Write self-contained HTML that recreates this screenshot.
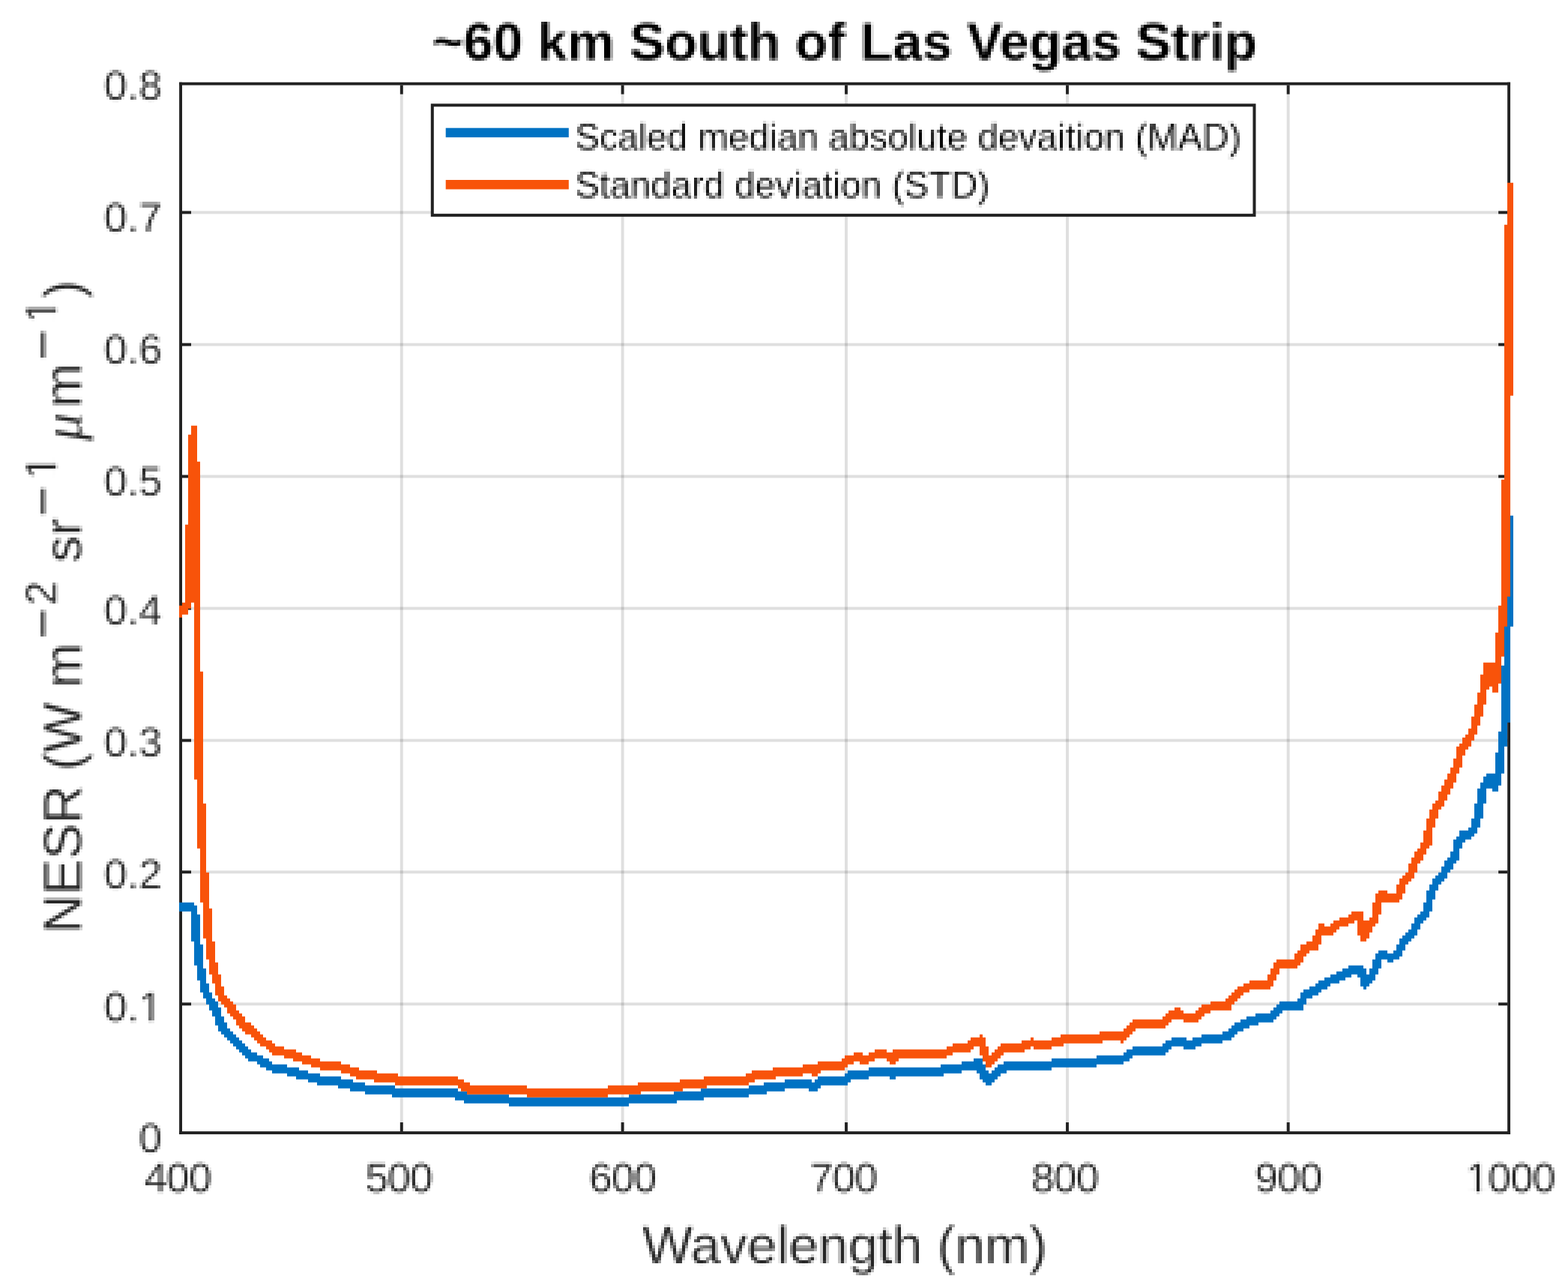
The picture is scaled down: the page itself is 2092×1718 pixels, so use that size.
<!DOCTYPE html>
<html lang="en"><head><meta charset="utf-8"><title>NESR ~60 km South of Las Vegas Strip</title>
<style>html,body{margin:0;padding:0;background:#fff}body{width:2092px;height:1718px;overflow:hidden}svg{display:block}text{font-family:"Liberation Sans",Arial,Helvetica,sans-serif;fill:#262626}</style></head><body>
<svg width="2092" height="1718" viewBox="0 0 2092 1718">
<rect width="2092" height="1718" fill="#fff"/>
<g fill="#262626" fill-opacity="0.15">
<rect x="533.85" y="111.70" width="3.90" height="1399.30"/>
<rect x="828.65" y="111.70" width="3.90" height="1399.30"/>
<rect x="1127.05" y="111.70" width="3.90" height="1399.30"/>
<rect x="1422.05" y="111.70" width="3.90" height="1399.30"/>
<rect x="1716.75" y="111.70" width="3.90" height="1399.30"/>
<rect x="241.05" y="281.45" width="1772.05" height="3.90"/>
<rect x="241.05" y="457.65" width="1772.05" height="3.90"/>
<rect x="241.05" y="633.55" width="1772.05" height="3.90"/>
<rect x="241.05" y="809.55" width="1772.05" height="3.90"/>
<rect x="241.05" y="985.65" width="1772.05" height="3.90"/>
<rect x="241.05" y="1161.25" width="1772.05" height="3.90"/>
<rect x="241.05" y="1337.30" width="1772.05" height="3.90"/>
</g>
<g fill="#222222">
<rect x="239.10" y="109.75" width="3.90" height="1403.20"/>
<rect x="2011.15" y="109.75" width="3.90" height="1403.20"/>
<rect x="239.10" y="109.75" width="1775.95" height="3.90"/>
<rect x="239.10" y="1509.05" width="1775.95" height="3.90"/>
<rect x="533.85" y="113.65" width="3.90" height="12.00"/>
<rect x="533.85" y="1497.05" width="3.90" height="12.00"/>
<rect x="828.65" y="113.65" width="3.90" height="12.00"/>
<rect x="828.65" y="1497.05" width="3.90" height="12.00"/>
<rect x="1127.05" y="113.65" width="3.90" height="12.00"/>
<rect x="1127.05" y="1497.05" width="3.90" height="12.00"/>
<rect x="1422.05" y="113.65" width="3.90" height="12.00"/>
<rect x="1422.05" y="1497.05" width="3.90" height="12.00"/>
<rect x="1716.75" y="113.65" width="3.90" height="12.00"/>
<rect x="1716.75" y="1497.05" width="3.90" height="12.00"/>
<rect x="243.00" y="281.45" width="12.00" height="3.90"/>
<rect x="1999.15" y="281.45" width="12.00" height="3.90"/>
<rect x="243.00" y="457.65" width="12.00" height="3.90"/>
<rect x="1999.15" y="457.65" width="12.00" height="3.90"/>
<rect x="243.00" y="633.55" width="12.00" height="3.90"/>
<rect x="1999.15" y="633.55" width="12.00" height="3.90"/>
<rect x="243.00" y="809.55" width="12.00" height="3.90"/>
<rect x="1999.15" y="809.55" width="12.00" height="3.90"/>
<rect x="243.00" y="985.65" width="12.00" height="3.90"/>
<rect x="1999.15" y="985.65" width="12.00" height="3.90"/>
<rect x="243.00" y="1161.25" width="12.00" height="3.90"/>
<rect x="1999.15" y="1161.25" width="12.00" height="3.90"/>
<rect x="243.00" y="1337.30" width="12.00" height="3.90"/>
<rect x="1999.15" y="1337.30" width="12.00" height="3.90"/>
</g>
<rect x="576.8" y="140.3" width="1096.7" height="146.8" fill="#fff" stroke="#222222" stroke-width="4"/>
<rect x="594.7" y="170.7" width="164.1" height="12.5" fill="#0072c3"/>
<rect x="594.7" y="240.0" width="164.1" height="12.5" fill="#f8530a"/>
<filter id="px1" filterUnits="userSpaceOnUse" x="762" y="149" width="908" height="136" color-interpolation-filters="sRGB"><feConvolveMatrix in="SourceGraphic" order="4" kernelMatrix="1 1 1 1 1 1 1 1 1 1 1 1 1 1 1 1" divisor="16" targetX="1" targetY="1" edgeMode="none" preserveAlpha="false" result="b"/><feFlood x="763" y="150" width="1" height="1" flood-color="#000" result="f"/><feComposite in="f" in2="f" operator="over" x="762" y="149" width="4" height="4" result="c"/><feTile in="c" result="t"/><feComposite in="b" in2="t" operator="in" result="s"/><feConvolveMatrix in="s" order="4" kernelMatrix="1 1 1 1 1 1 1 1 1 1 1 1 1 1 1 1" divisor="1" targetX="2" targetY="2" edgeMode="none" preserveAlpha="false"/></filter>
<g filter="url(#px1)" stroke="#fff" stroke-width="0.3">
<text x="767.3" y="199.6" font-size="49.06" style="fill:#000">Scaled median absolute devaition (MAD)</text>
<text x="767.3" y="264.2" font-size="49.06" style="fill:#000">Standard deviation (STD)</text>
</g>
<path fill="#0072c3" d="M239.0 1203.80h4.0v12.05h-4.0zM243.0 1203.80h4.0v12.05h-4.0zM247.0 1203.80h4.0v12.05h-4.0zM251.0 1203.80h4.0v12.05h-4.0zM255.0 1203.80h4.0v52.05h-4.0zM259.0 1207.80h4.0v80.05h-4.0zM263.0 1219.80h4.0v88.05h-4.0zM267.0 1259.80h4.0v64.05h-4.0zM271.0 1291.80h4.0v40.05h-4.0zM275.0 1311.80h4.0v28.05h-4.0zM279.0 1323.80h4.0v24.05h-4.0zM283.0 1331.80h4.0v24.05h-4.0zM287.0 1335.80h4.0v32.05h-4.0zM291.0 1343.80h4.0v32.05h-4.0zM295.0 1355.80h4.0v24.05h-4.0zM299.0 1363.80h4.0v20.05h-4.0zM303.0 1371.80h4.0v16.05h-4.0zM307.0 1375.80h4.0v16.05h-4.0zM311.0 1379.80h4.0v16.05h-4.0zM315.0 1383.80h4.0v16.05h-4.0zM319.0 1387.80h4.0v16.05h-4.0zM323.0 1391.80h4.0v16.05h-4.0zM327.0 1395.80h4.0v16.05h-4.0zM331.0 1399.80h4.0v16.05h-4.0zM335.0 1403.80h4.0v12.05h-4.0zM339.0 1403.80h4.0v12.05h-4.0zM343.0 1407.80h4.0v12.05h-4.0zM347.0 1407.80h4.0v16.05h-4.0zM351.0 1411.80h4.0v12.05h-4.0zM355.0 1411.80h4.0v16.05h-4.0zM359.0 1415.80h4.0v12.05h-4.0zM363.0 1419.80h4.0v12.05h-4.0zM367.0 1419.80h4.0v12.05h-4.0zM371.0 1419.80h4.0v12.05h-4.0zM375.0 1419.80h4.0v12.05h-4.0zM379.0 1419.80h4.0v12.05h-4.0zM383.0 1423.80h4.0v12.05h-4.0zM387.0 1423.80h4.0v12.05h-4.0zM391.0 1423.80h4.0v12.05h-4.0zM395.0 1423.80h4.0v16.05h-4.0zM399.0 1427.80h4.0v12.05h-4.0zM403.0 1427.80h4.0v12.05h-4.0zM407.0 1427.80h4.0v12.05h-4.0zM411.0 1431.80h4.0v12.05h-4.0zM415.0 1431.80h4.0v12.05h-4.0zM419.0 1431.80h4.0v12.05h-4.0zM423.0 1431.80h4.0v16.05h-4.0zM427.0 1435.80h4.0v12.05h-4.0zM431.0 1435.80h4.0v12.05h-4.0zM435.0 1435.80h4.0v12.05h-4.0zM439.0 1435.80h4.0v12.05h-4.0zM443.0 1435.80h4.0v12.05h-4.0zM447.0 1435.80h4.0v12.05h-4.0zM451.0 1435.80h4.0v16.05h-4.0zM455.0 1439.80h4.0v12.05h-4.0zM459.0 1439.80h4.0v12.05h-4.0zM463.0 1439.80h4.0v12.05h-4.0zM467.0 1439.80h4.0v16.05h-4.0zM471.0 1443.80h4.0v12.05h-4.0zM475.0 1443.80h4.0v12.05h-4.0zM479.0 1443.80h4.0v12.05h-4.0zM483.0 1443.80h4.0v12.05h-4.0zM487.0 1447.80h4.0v12.05h-4.0zM491.0 1447.80h4.0v12.05h-4.0zM495.0 1447.80h4.0v12.05h-4.0zM499.0 1447.80h4.0v12.05h-4.0zM503.0 1447.80h4.0v12.05h-4.0zM507.0 1447.80h4.0v12.05h-4.0zM511.0 1447.80h4.0v12.05h-4.0zM515.0 1447.80h4.0v12.05h-4.0zM519.0 1447.80h4.0v12.05h-4.0zM523.0 1447.80h4.0v16.05h-4.0zM527.0 1451.80h4.0v12.05h-4.0zM531.0 1451.80h4.0v12.05h-4.0zM535.0 1451.80h4.0v12.05h-4.0zM539.0 1451.80h4.0v12.05h-4.0zM543.0 1451.80h4.0v12.05h-4.0zM547.0 1451.80h4.0v12.05h-4.0zM551.0 1451.80h4.0v12.05h-4.0zM555.0 1451.80h4.0v12.05h-4.0zM559.0 1451.80h4.0v12.05h-4.0zM563.0 1451.80h4.0v12.05h-4.0zM567.0 1451.80h4.0v12.05h-4.0zM571.0 1451.80h4.0v12.05h-4.0zM575.0 1451.80h4.0v12.05h-4.0zM579.0 1451.80h4.0v12.05h-4.0zM583.0 1451.80h4.0v12.05h-4.0zM587.0 1451.80h4.0v12.05h-4.0zM591.0 1451.80h4.0v12.05h-4.0zM595.0 1451.80h4.0v12.05h-4.0zM599.0 1451.80h4.0v12.05h-4.0zM603.0 1451.80h4.0v12.05h-4.0zM607.0 1451.80h4.0v16.05h-4.0zM611.0 1455.80h4.0v12.05h-4.0zM615.0 1455.80h4.0v12.05h-4.0zM619.0 1455.80h4.0v16.05h-4.0zM623.0 1459.80h4.0v12.05h-4.0zM627.0 1459.80h4.0v12.05h-4.0zM631.0 1459.80h4.0v12.05h-4.0zM635.0 1459.80h4.0v12.05h-4.0zM639.0 1459.80h4.0v12.05h-4.0zM643.0 1459.80h4.0v12.05h-4.0zM647.0 1459.80h4.0v12.05h-4.0zM651.0 1459.80h4.0v12.05h-4.0zM655.0 1459.80h4.0v12.05h-4.0zM659.0 1459.80h4.0v12.05h-4.0zM663.0 1459.80h4.0v12.05h-4.0zM667.0 1459.80h4.0v12.05h-4.0zM671.0 1459.80h4.0v12.05h-4.0zM675.0 1459.80h4.0v12.05h-4.0zM679.0 1463.80h4.0v12.05h-4.0zM683.0 1463.80h4.0v12.05h-4.0zM687.0 1463.80h4.0v12.05h-4.0zM691.0 1463.80h4.0v12.05h-4.0zM695.0 1463.80h4.0v12.05h-4.0zM699.0 1463.80h4.0v12.05h-4.0zM703.0 1463.80h4.0v12.05h-4.0zM707.0 1463.80h4.0v12.05h-4.0zM711.0 1463.80h4.0v12.05h-4.0zM715.0 1463.80h4.0v12.05h-4.0zM719.0 1463.80h4.0v12.05h-4.0zM723.0 1463.80h4.0v12.05h-4.0zM727.0 1463.80h4.0v12.05h-4.0zM731.0 1463.80h4.0v12.05h-4.0zM735.0 1463.80h4.0v12.05h-4.0zM739.0 1463.80h4.0v12.05h-4.0zM743.0 1463.80h4.0v12.05h-4.0zM747.0 1463.80h4.0v12.05h-4.0zM751.0 1463.80h4.0v12.05h-4.0zM755.0 1463.80h4.0v12.05h-4.0zM759.0 1463.80h4.0v12.05h-4.0zM763.0 1463.80h4.0v12.05h-4.0zM767.0 1463.80h4.0v12.05h-4.0zM771.0 1463.80h4.0v12.05h-4.0zM775.0 1463.80h4.0v12.05h-4.0zM779.0 1463.80h4.0v12.05h-4.0zM783.0 1463.80h4.0v12.05h-4.0zM787.0 1463.80h4.0v12.05h-4.0zM791.0 1463.80h4.0v12.05h-4.0zM795.0 1463.80h4.0v12.05h-4.0zM799.0 1463.80h4.0v12.05h-4.0zM803.0 1463.80h4.0v12.05h-4.0zM807.0 1463.80h4.0v12.05h-4.0zM811.0 1463.80h4.0v12.05h-4.0zM815.0 1463.80h4.0v12.05h-4.0zM819.0 1463.80h4.0v12.05h-4.0zM823.0 1463.80h4.0v12.05h-4.0zM827.0 1463.80h4.0v12.05h-4.0zM831.0 1463.80h4.0v12.05h-4.0zM835.0 1463.80h4.0v12.05h-4.0zM839.0 1459.80h4.0v12.05h-4.0zM843.0 1459.80h4.0v12.05h-4.0zM847.0 1459.80h4.0v12.05h-4.0zM851.0 1459.80h4.0v12.05h-4.0zM855.0 1459.80h4.0v12.05h-4.0zM859.0 1459.80h4.0v12.05h-4.0zM863.0 1459.80h4.0v12.05h-4.0zM867.0 1459.80h4.0v12.05h-4.0zM871.0 1459.80h4.0v12.05h-4.0zM875.0 1459.80h4.0v12.05h-4.0zM879.0 1459.80h4.0v12.05h-4.0zM883.0 1459.80h4.0v12.05h-4.0zM887.0 1459.80h4.0v12.05h-4.0zM891.0 1459.80h4.0v12.05h-4.0zM895.0 1459.80h4.0v12.05h-4.0zM899.0 1455.80h4.0v16.05h-4.0zM903.0 1455.80h4.0v12.05h-4.0zM907.0 1455.80h4.0v12.05h-4.0zM911.0 1455.80h4.0v12.05h-4.0zM915.0 1455.80h4.0v12.05h-4.0zM919.0 1455.80h4.0v12.05h-4.0zM923.0 1455.80h4.0v12.05h-4.0zM927.0 1455.80h4.0v12.05h-4.0zM931.0 1455.80h4.0v12.05h-4.0zM935.0 1451.80h4.0v16.05h-4.0zM939.0 1451.80h4.0v12.05h-4.0zM943.0 1451.80h4.0v12.05h-4.0zM947.0 1451.80h4.0v12.05h-4.0zM951.0 1451.80h4.0v12.05h-4.0zM955.0 1451.80h4.0v12.05h-4.0zM959.0 1451.80h4.0v12.05h-4.0zM963.0 1451.80h4.0v12.05h-4.0zM967.0 1451.80h4.0v12.05h-4.0zM971.0 1451.80h4.0v12.05h-4.0zM975.0 1451.80h4.0v12.05h-4.0zM979.0 1451.80h4.0v12.05h-4.0zM983.0 1451.80h4.0v12.05h-4.0zM987.0 1451.80h4.0v12.05h-4.0zM991.0 1451.80h4.0v12.05h-4.0zM995.0 1451.80h4.0v12.05h-4.0zM999.0 1447.80h4.0v12.05h-4.0zM1003.0 1447.80h4.0v12.05h-4.0zM1007.0 1447.80h4.0v12.05h-4.0zM1011.0 1447.80h4.0v12.05h-4.0zM1015.0 1447.80h4.0v12.05h-4.0zM1019.0 1443.80h4.0v16.05h-4.0zM1023.0 1443.80h4.0v12.05h-4.0zM1027.0 1443.80h4.0v12.05h-4.0zM1031.0 1443.80h4.0v12.05h-4.0zM1035.0 1443.80h4.0v12.05h-4.0zM1039.0 1443.80h4.0v12.05h-4.0zM1043.0 1443.80h4.0v12.05h-4.0zM1047.0 1439.80h4.0v12.05h-4.0zM1051.0 1439.80h4.0v12.05h-4.0zM1055.0 1439.80h4.0v12.05h-4.0zM1059.0 1439.80h4.0v12.05h-4.0zM1063.0 1439.80h4.0v12.05h-4.0zM1067.0 1439.80h4.0v12.05h-4.0zM1071.0 1439.80h4.0v12.05h-4.0zM1075.0 1439.80h4.0v12.05h-4.0zM1079.0 1439.80h4.0v16.05h-4.0zM1083.0 1443.80h4.0v12.05h-4.0zM1087.0 1439.80h4.0v16.05h-4.0zM1091.0 1435.80h4.0v16.05h-4.0zM1095.0 1435.80h4.0v12.05h-4.0zM1099.0 1435.80h4.0v12.05h-4.0zM1103.0 1435.80h4.0v12.05h-4.0zM1107.0 1435.80h4.0v12.05h-4.0zM1111.0 1435.80h4.0v12.05h-4.0zM1115.0 1435.80h4.0v12.05h-4.0zM1119.0 1435.80h4.0v12.05h-4.0zM1123.0 1435.80h4.0v12.05h-4.0zM1127.0 1431.80h4.0v16.05h-4.0zM1131.0 1427.80h4.0v16.05h-4.0zM1135.0 1427.80h4.0v12.05h-4.0zM1139.0 1427.80h4.0v12.05h-4.0zM1143.0 1427.80h4.0v12.05h-4.0zM1147.0 1427.80h4.0v12.05h-4.0zM1151.0 1427.80h4.0v12.05h-4.0zM1155.0 1427.80h4.0v12.05h-4.0zM1159.0 1423.80h4.0v12.05h-4.0zM1163.0 1423.80h4.0v12.05h-4.0zM1167.0 1423.80h4.0v12.05h-4.0zM1171.0 1423.80h4.0v12.05h-4.0zM1175.0 1423.80h4.0v12.05h-4.0zM1179.0 1423.80h4.0v12.05h-4.0zM1183.0 1423.80h4.0v12.05h-4.0zM1187.0 1423.80h4.0v16.05h-4.0zM1191.0 1423.80h4.0v16.05h-4.0zM1195.0 1423.80h4.0v12.05h-4.0zM1199.0 1423.80h4.0v12.05h-4.0zM1203.0 1423.80h4.0v12.05h-4.0zM1207.0 1423.80h4.0v12.05h-4.0zM1211.0 1423.80h4.0v12.05h-4.0zM1215.0 1423.80h4.0v12.05h-4.0zM1219.0 1423.80h4.0v12.05h-4.0zM1223.0 1423.80h4.0v12.05h-4.0zM1227.0 1423.80h4.0v12.05h-4.0zM1231.0 1423.80h4.0v12.05h-4.0zM1235.0 1423.80h4.0v12.05h-4.0zM1239.0 1423.80h4.0v12.05h-4.0zM1243.0 1423.80h4.0v12.05h-4.0zM1247.0 1423.80h4.0v12.05h-4.0zM1251.0 1423.80h4.0v12.05h-4.0zM1255.0 1419.80h4.0v16.05h-4.0zM1259.0 1419.80h4.0v12.05h-4.0zM1263.0 1419.80h4.0v12.05h-4.0zM1267.0 1419.80h4.0v12.05h-4.0zM1271.0 1419.80h4.0v12.05h-4.0zM1275.0 1419.80h4.0v12.05h-4.0zM1279.0 1419.80h4.0v12.05h-4.0zM1283.0 1415.80h4.0v12.05h-4.0zM1287.0 1415.80h4.0v12.05h-4.0zM1291.0 1415.80h4.0v12.05h-4.0zM1295.0 1415.80h4.0v12.05h-4.0zM1299.0 1411.80h4.0v16.05h-4.0zM1303.0 1411.80h4.0v20.05h-4.0zM1307.0 1411.80h4.0v28.05h-4.0zM1311.0 1419.80h4.0v24.05h-4.0zM1315.0 1427.80h4.0v20.05h-4.0zM1319.0 1431.80h4.0v16.05h-4.0zM1323.0 1427.80h4.0v16.05h-4.0zM1327.0 1423.80h4.0v16.05h-4.0zM1331.0 1419.80h4.0v16.05h-4.0zM1335.0 1419.80h4.0v12.05h-4.0zM1339.0 1415.80h4.0v16.05h-4.0zM1343.0 1415.80h4.0v12.05h-4.0zM1347.0 1415.80h4.0v12.05h-4.0zM1351.0 1415.80h4.0v12.05h-4.0zM1355.0 1415.80h4.0v12.05h-4.0zM1359.0 1415.80h4.0v12.05h-4.0zM1363.0 1415.80h4.0v12.05h-4.0zM1367.0 1415.80h4.0v12.05h-4.0zM1371.0 1415.80h4.0v12.05h-4.0zM1375.0 1415.80h4.0v12.05h-4.0zM1379.0 1415.80h4.0v12.05h-4.0zM1383.0 1415.80h4.0v12.05h-4.0zM1387.0 1415.80h4.0v12.05h-4.0zM1391.0 1415.80h4.0v12.05h-4.0zM1395.0 1415.80h4.0v12.05h-4.0zM1399.0 1415.80h4.0v12.05h-4.0zM1403.0 1411.80h4.0v12.05h-4.0zM1407.0 1411.80h4.0v12.05h-4.0zM1411.0 1411.80h4.0v12.05h-4.0zM1415.0 1411.80h4.0v12.05h-4.0zM1419.0 1411.80h4.0v12.05h-4.0zM1423.0 1411.80h4.0v12.05h-4.0zM1427.0 1411.80h4.0v12.05h-4.0zM1431.0 1411.80h4.0v12.05h-4.0zM1435.0 1411.80h4.0v12.05h-4.0zM1439.0 1411.80h4.0v12.05h-4.0zM1443.0 1411.80h4.0v12.05h-4.0zM1447.0 1411.80h4.0v12.05h-4.0zM1451.0 1411.80h4.0v12.05h-4.0zM1455.0 1411.80h4.0v12.05h-4.0zM1459.0 1411.80h4.0v12.05h-4.0zM1463.0 1407.80h4.0v12.05h-4.0zM1467.0 1407.80h4.0v12.05h-4.0zM1471.0 1407.80h4.0v12.05h-4.0zM1475.0 1407.80h4.0v12.05h-4.0zM1479.0 1407.80h4.0v12.05h-4.0zM1483.0 1407.80h4.0v12.05h-4.0zM1487.0 1407.80h4.0v12.05h-4.0zM1491.0 1407.80h4.0v12.05h-4.0zM1495.0 1407.80h4.0v12.05h-4.0zM1499.0 1403.80h4.0v12.05h-4.0zM1503.0 1399.80h4.0v16.05h-4.0zM1507.0 1399.80h4.0v12.05h-4.0zM1511.0 1395.80h4.0v12.05h-4.0zM1515.0 1395.80h4.0v12.05h-4.0zM1519.0 1395.80h4.0v12.05h-4.0zM1523.0 1395.80h4.0v12.05h-4.0zM1527.0 1395.80h4.0v12.05h-4.0zM1531.0 1395.80h4.0v12.05h-4.0zM1535.0 1395.80h4.0v12.05h-4.0zM1539.0 1395.80h4.0v12.05h-4.0zM1543.0 1395.80h4.0v12.05h-4.0zM1547.0 1395.80h4.0v12.05h-4.0zM1551.0 1391.80h4.0v16.05h-4.0zM1555.0 1387.80h4.0v16.05h-4.0zM1559.0 1387.80h4.0v12.05h-4.0zM1563.0 1383.80h4.0v12.05h-4.0zM1567.0 1383.80h4.0v12.05h-4.0zM1571.0 1383.80h4.0v12.05h-4.0zM1575.0 1383.80h4.0v12.05h-4.0zM1579.0 1383.80h4.0v16.05h-4.0zM1583.0 1387.80h4.0v12.05h-4.0zM1587.0 1387.80h4.0v12.05h-4.0zM1591.0 1383.80h4.0v16.05h-4.0zM1595.0 1383.80h4.0v12.05h-4.0zM1599.0 1383.80h4.0v12.05h-4.0zM1603.0 1379.80h4.0v12.05h-4.0zM1607.0 1379.80h4.0v12.05h-4.0zM1611.0 1379.80h4.0v12.05h-4.0zM1615.0 1379.80h4.0v12.05h-4.0zM1619.0 1379.80h4.0v12.05h-4.0zM1623.0 1379.80h4.0v12.05h-4.0zM1627.0 1379.80h4.0v12.05h-4.0zM1631.0 1375.80h4.0v12.05h-4.0zM1635.0 1375.80h4.0v12.05h-4.0zM1639.0 1371.80h4.0v16.05h-4.0zM1643.0 1367.80h4.0v16.05h-4.0zM1647.0 1363.80h4.0v16.05h-4.0zM1651.0 1363.80h4.0v12.05h-4.0zM1655.0 1359.80h4.0v16.05h-4.0zM1659.0 1359.80h4.0v12.05h-4.0zM1663.0 1355.80h4.0v16.05h-4.0zM1667.0 1355.80h4.0v12.05h-4.0zM1671.0 1355.80h4.0v12.05h-4.0zM1675.0 1351.80h4.0v16.05h-4.0zM1679.0 1351.80h4.0v12.05h-4.0zM1683.0 1351.80h4.0v12.05h-4.0zM1687.0 1351.80h4.0v12.05h-4.0zM1691.0 1351.80h4.0v12.05h-4.0zM1695.0 1347.80h4.0v16.05h-4.0zM1699.0 1343.80h4.0v16.05h-4.0zM1703.0 1339.80h4.0v16.05h-4.0zM1707.0 1335.80h4.0v16.05h-4.0zM1711.0 1335.80h4.0v12.05h-4.0zM1715.0 1335.80h4.0v12.05h-4.0zM1719.0 1335.80h4.0v12.05h-4.0zM1723.0 1335.80h4.0v12.05h-4.0zM1727.0 1335.80h4.0v12.05h-4.0zM1731.0 1331.80h4.0v16.05h-4.0zM1735.0 1323.80h4.0v24.05h-4.0zM1739.0 1319.80h4.0v20.05h-4.0zM1743.0 1319.80h4.0v12.05h-4.0zM1747.0 1315.80h4.0v16.05h-4.0zM1751.0 1315.80h4.0v12.05h-4.0zM1755.0 1311.80h4.0v16.05h-4.0zM1759.0 1307.80h4.0v16.05h-4.0zM1763.0 1307.80h4.0v12.05h-4.0zM1767.0 1303.80h4.0v16.05h-4.0zM1771.0 1303.80h4.0v12.05h-4.0zM1775.0 1299.80h4.0v12.05h-4.0zM1779.0 1299.80h4.0v12.05h-4.0zM1783.0 1295.80h4.0v16.05h-4.0zM1787.0 1295.80h4.0v12.05h-4.0zM1791.0 1291.80h4.0v16.05h-4.0zM1795.0 1291.80h4.0v12.05h-4.0zM1799.0 1287.80h4.0v16.05h-4.0zM1803.0 1287.80h4.0v12.05h-4.0zM1807.0 1287.80h4.0v12.05h-4.0zM1811.0 1287.80h4.0v16.05h-4.0zM1815.0 1287.80h4.0v28.05h-4.0zM1819.0 1291.80h4.0v28.05h-4.0zM1823.0 1299.80h4.0v16.05h-4.0zM1827.0 1291.80h4.0v20.05h-4.0zM1831.0 1279.80h4.0v28.05h-4.0zM1835.0 1271.80h4.0v28.05h-4.0zM1839.0 1267.80h4.0v24.05h-4.0zM1843.0 1267.80h4.0v12.05h-4.0zM1847.0 1267.80h4.0v12.05h-4.0zM1851.0 1271.80h4.0v12.05h-4.0zM1855.0 1271.80h4.0v12.05h-4.0zM1859.0 1267.80h4.0v12.05h-4.0zM1863.0 1259.80h4.0v20.05h-4.0zM1867.0 1251.80h4.0v24.05h-4.0zM1871.0 1247.80h4.0v20.05h-4.0zM1875.0 1243.80h4.0v16.05h-4.0zM1879.0 1239.80h4.0v16.05h-4.0zM1883.0 1231.80h4.0v20.05h-4.0zM1887.0 1223.80h4.0v24.05h-4.0zM1891.0 1219.80h4.0v20.05h-4.0zM1895.0 1215.80h4.0v16.05h-4.0zM1899.0 1203.80h4.0v24.05h-4.0zM1903.0 1187.80h4.0v36.05h-4.0zM1907.0 1179.80h4.0v36.05h-4.0zM1911.0 1171.80h4.0v28.05h-4.0zM1915.0 1167.80h4.0v20.05h-4.0zM1919.0 1163.80h4.0v16.05h-4.0zM1923.0 1155.80h4.0v20.05h-4.0zM1927.0 1147.80h4.0v24.05h-4.0zM1931.0 1143.80h4.0v20.05h-4.0zM1935.0 1135.80h4.0v24.05h-4.0zM1939.0 1119.80h4.0v32.05h-4.0zM1943.0 1115.80h4.0v32.05h-4.0zM1947.0 1107.80h4.0v24.05h-4.0zM1951.0 1107.80h4.0v16.05h-4.0zM1955.0 1107.80h4.0v12.05h-4.0zM1959.0 1103.80h4.0v16.05h-4.0zM1963.0 1091.80h4.0v24.05h-4.0zM1967.0 1071.80h4.0v40.05h-4.0zM1971.0 1051.80h4.0v52.05h-4.0zM1975.0 1043.80h4.0v48.05h-4.0zM1979.0 1035.80h4.0v36.05h-4.0zM1983.0 1031.80h4.0v20.05h-4.0zM1987.0 1031.80h4.0v20.05h-4.0zM1991.0 1031.80h4.0v24.05h-4.0zM1995.0 1003.80h4.0v52.05h-4.0zM1999.0 975.80h4.0v72.05h-4.0zM2003.0 887.80h4.0v144.05h-4.0zM2007.0 827.80h4.0v168.05h-4.0zM2011.0 687.80h4.0v276.05h-4.0zM2015.0 687.80h4.0v148.05h-4.0z"/>
<path fill="#f8530a" d="M239.0 807.80h4.0v16.05h-4.0zM243.0 803.80h4.0v16.05h-4.0zM247.0 699.80h4.0v120.05h-4.0zM251.0 579.80h4.0v232.05h-4.0zM255.0 567.80h4.0v236.05h-4.0zM259.0 567.80h4.0v472.05h-4.0zM263.0 615.80h4.0v516.05h-4.0zM267.0 895.80h4.0v308.05h-4.0zM271.0 1071.80h4.0v180.05h-4.0zM275.0 1163.80h4.0v116.05h-4.0zM279.0 1211.80h4.0v88.05h-4.0zM283.0 1255.80h4.0v56.05h-4.0zM287.0 1283.80h4.0v44.05h-4.0zM291.0 1299.80h4.0v36.05h-4.0zM295.0 1315.80h4.0v24.05h-4.0zM299.0 1327.80h4.0v16.05h-4.0zM303.0 1331.80h4.0v20.05h-4.0zM307.0 1335.80h4.0v20.05h-4.0zM311.0 1339.80h4.0v20.05h-4.0zM315.0 1347.80h4.0v20.05h-4.0zM319.0 1351.80h4.0v20.05h-4.0zM323.0 1355.80h4.0v20.05h-4.0zM327.0 1363.80h4.0v16.05h-4.0zM331.0 1363.80h4.0v16.05h-4.0zM335.0 1367.80h4.0v16.05h-4.0zM339.0 1371.80h4.0v16.05h-4.0zM343.0 1375.80h4.0v16.05h-4.0zM347.0 1379.80h4.0v16.05h-4.0zM351.0 1383.80h4.0v12.05h-4.0zM355.0 1387.80h4.0v12.05h-4.0zM359.0 1387.80h4.0v16.05h-4.0zM363.0 1391.80h4.0v16.05h-4.0zM367.0 1395.80h4.0v12.05h-4.0zM371.0 1395.80h4.0v12.05h-4.0zM375.0 1395.80h4.0v12.05h-4.0zM379.0 1399.80h4.0v12.05h-4.0zM383.0 1399.80h4.0v12.05h-4.0zM387.0 1399.80h4.0v12.05h-4.0zM391.0 1399.80h4.0v16.05h-4.0zM395.0 1403.80h4.0v12.05h-4.0zM399.0 1403.80h4.0v12.05h-4.0zM403.0 1407.80h4.0v12.05h-4.0zM407.0 1407.80h4.0v12.05h-4.0zM411.0 1407.80h4.0v12.05h-4.0zM415.0 1411.80h4.0v12.05h-4.0zM419.0 1411.80h4.0v12.05h-4.0zM423.0 1411.80h4.0v12.05h-4.0zM427.0 1415.80h4.0v12.05h-4.0zM431.0 1415.80h4.0v12.05h-4.0zM435.0 1415.80h4.0v12.05h-4.0zM439.0 1415.80h4.0v12.05h-4.0zM443.0 1415.80h4.0v12.05h-4.0zM447.0 1415.80h4.0v12.05h-4.0zM451.0 1415.80h4.0v12.05h-4.0zM455.0 1419.80h4.0v12.05h-4.0zM459.0 1419.80h4.0v12.05h-4.0zM463.0 1419.80h4.0v12.05h-4.0zM467.0 1423.80h4.0v12.05h-4.0zM471.0 1423.80h4.0v12.05h-4.0zM475.0 1423.80h4.0v16.05h-4.0zM479.0 1427.80h4.0v12.05h-4.0zM483.0 1427.80h4.0v12.05h-4.0zM487.0 1427.80h4.0v12.05h-4.0zM491.0 1427.80h4.0v12.05h-4.0zM495.0 1427.80h4.0v12.05h-4.0zM499.0 1427.80h4.0v16.05h-4.0zM503.0 1431.80h4.0v12.05h-4.0zM507.0 1431.80h4.0v12.05h-4.0zM511.0 1431.80h4.0v12.05h-4.0zM515.0 1431.80h4.0v12.05h-4.0zM519.0 1431.80h4.0v12.05h-4.0zM523.0 1431.80h4.0v12.05h-4.0zM527.0 1431.80h4.0v16.05h-4.0zM531.0 1435.80h4.0v12.05h-4.0zM535.0 1435.80h4.0v12.05h-4.0zM539.0 1435.80h4.0v12.05h-4.0zM543.0 1435.80h4.0v12.05h-4.0zM547.0 1435.80h4.0v12.05h-4.0zM551.0 1435.80h4.0v12.05h-4.0zM555.0 1435.80h4.0v12.05h-4.0zM559.0 1435.80h4.0v12.05h-4.0zM563.0 1435.80h4.0v12.05h-4.0zM567.0 1435.80h4.0v12.05h-4.0zM571.0 1435.80h4.0v12.05h-4.0zM575.0 1435.80h4.0v12.05h-4.0zM579.0 1435.80h4.0v12.05h-4.0zM583.0 1435.80h4.0v12.05h-4.0zM587.0 1435.80h4.0v12.05h-4.0zM591.0 1435.80h4.0v12.05h-4.0zM595.0 1435.80h4.0v12.05h-4.0zM599.0 1435.80h4.0v12.05h-4.0zM603.0 1435.80h4.0v12.05h-4.0zM607.0 1435.80h4.0v12.05h-4.0zM611.0 1439.80h4.0v12.05h-4.0zM615.0 1439.80h4.0v16.05h-4.0zM619.0 1443.80h4.0v12.05h-4.0zM623.0 1443.80h4.0v16.05h-4.0zM627.0 1447.80h4.0v12.05h-4.0zM631.0 1447.80h4.0v12.05h-4.0zM635.0 1447.80h4.0v12.05h-4.0zM639.0 1447.80h4.0v12.05h-4.0zM643.0 1447.80h4.0v12.05h-4.0zM647.0 1447.80h4.0v12.05h-4.0zM651.0 1447.80h4.0v12.05h-4.0zM655.0 1447.80h4.0v12.05h-4.0zM659.0 1447.80h4.0v12.05h-4.0zM663.0 1447.80h4.0v12.05h-4.0zM667.0 1447.80h4.0v12.05h-4.0zM671.0 1447.80h4.0v12.05h-4.0zM675.0 1447.80h4.0v12.05h-4.0zM679.0 1447.80h4.0v12.05h-4.0zM683.0 1447.80h4.0v12.05h-4.0zM687.0 1447.80h4.0v12.05h-4.0zM691.0 1447.80h4.0v12.05h-4.0zM695.0 1447.80h4.0v12.05h-4.0zM699.0 1447.80h4.0v12.05h-4.0zM703.0 1451.80h4.0v12.05h-4.0zM707.0 1451.80h4.0v12.05h-4.0zM711.0 1451.80h4.0v12.05h-4.0zM715.0 1451.80h4.0v12.05h-4.0zM719.0 1451.80h4.0v12.05h-4.0zM723.0 1451.80h4.0v12.05h-4.0zM727.0 1451.80h4.0v12.05h-4.0zM731.0 1451.80h4.0v12.05h-4.0zM735.0 1451.80h4.0v12.05h-4.0zM739.0 1451.80h4.0v12.05h-4.0zM743.0 1451.80h4.0v12.05h-4.0zM747.0 1451.80h4.0v12.05h-4.0zM751.0 1451.80h4.0v12.05h-4.0zM755.0 1451.80h4.0v12.05h-4.0zM759.0 1451.80h4.0v12.05h-4.0zM763.0 1451.80h4.0v12.05h-4.0zM767.0 1451.80h4.0v12.05h-4.0zM771.0 1451.80h4.0v12.05h-4.0zM775.0 1451.80h4.0v12.05h-4.0zM779.0 1451.80h4.0v12.05h-4.0zM783.0 1451.80h4.0v12.05h-4.0zM787.0 1451.80h4.0v12.05h-4.0zM791.0 1451.80h4.0v12.05h-4.0zM795.0 1451.80h4.0v12.05h-4.0zM799.0 1451.80h4.0v12.05h-4.0zM803.0 1451.80h4.0v12.05h-4.0zM807.0 1451.80h4.0v12.05h-4.0zM811.0 1447.80h4.0v12.05h-4.0zM815.0 1447.80h4.0v12.05h-4.0zM819.0 1447.80h4.0v12.05h-4.0zM823.0 1447.80h4.0v12.05h-4.0zM827.0 1447.80h4.0v12.05h-4.0zM831.0 1447.80h4.0v12.05h-4.0zM835.0 1447.80h4.0v12.05h-4.0zM839.0 1447.80h4.0v12.05h-4.0zM843.0 1447.80h4.0v12.05h-4.0zM847.0 1447.80h4.0v12.05h-4.0zM851.0 1443.80h4.0v16.05h-4.0zM855.0 1443.80h4.0v12.05h-4.0zM859.0 1443.80h4.0v12.05h-4.0zM863.0 1443.80h4.0v12.05h-4.0zM867.0 1443.80h4.0v12.05h-4.0zM871.0 1443.80h4.0v12.05h-4.0zM875.0 1443.80h4.0v12.05h-4.0zM879.0 1443.80h4.0v12.05h-4.0zM883.0 1443.80h4.0v12.05h-4.0zM887.0 1443.80h4.0v12.05h-4.0zM891.0 1443.80h4.0v12.05h-4.0zM895.0 1443.80h4.0v12.05h-4.0zM899.0 1443.80h4.0v12.05h-4.0zM903.0 1443.80h4.0v12.05h-4.0zM907.0 1439.80h4.0v16.05h-4.0zM911.0 1439.80h4.0v12.05h-4.0zM915.0 1439.80h4.0v12.05h-4.0zM919.0 1439.80h4.0v12.05h-4.0zM923.0 1439.80h4.0v12.05h-4.0zM927.0 1439.80h4.0v12.05h-4.0zM931.0 1439.80h4.0v12.05h-4.0zM935.0 1439.80h4.0v12.05h-4.0zM939.0 1435.80h4.0v16.05h-4.0zM943.0 1435.80h4.0v12.05h-4.0zM947.0 1435.80h4.0v12.05h-4.0zM951.0 1435.80h4.0v12.05h-4.0zM955.0 1435.80h4.0v12.05h-4.0zM959.0 1435.80h4.0v12.05h-4.0zM963.0 1435.80h4.0v12.05h-4.0zM967.0 1435.80h4.0v12.05h-4.0zM971.0 1435.80h4.0v12.05h-4.0zM975.0 1435.80h4.0v12.05h-4.0zM979.0 1435.80h4.0v12.05h-4.0zM983.0 1435.80h4.0v12.05h-4.0zM987.0 1435.80h4.0v12.05h-4.0zM991.0 1435.80h4.0v12.05h-4.0zM995.0 1431.80h4.0v16.05h-4.0zM999.0 1431.80h4.0v12.05h-4.0zM1003.0 1427.80h4.0v16.05h-4.0zM1007.0 1427.80h4.0v12.05h-4.0zM1011.0 1427.80h4.0v12.05h-4.0zM1015.0 1427.80h4.0v12.05h-4.0zM1019.0 1427.80h4.0v12.05h-4.0zM1023.0 1427.80h4.0v12.05h-4.0zM1027.0 1427.80h4.0v12.05h-4.0zM1031.0 1423.80h4.0v16.05h-4.0zM1035.0 1423.80h4.0v12.05h-4.0zM1039.0 1423.80h4.0v12.05h-4.0zM1043.0 1423.80h4.0v12.05h-4.0zM1047.0 1423.80h4.0v12.05h-4.0zM1051.0 1423.80h4.0v12.05h-4.0zM1055.0 1423.80h4.0v12.05h-4.0zM1059.0 1423.80h4.0v12.05h-4.0zM1063.0 1423.80h4.0v12.05h-4.0zM1067.0 1423.80h4.0v12.05h-4.0zM1071.0 1419.80h4.0v12.05h-4.0zM1075.0 1419.80h4.0v12.05h-4.0zM1079.0 1419.80h4.0v12.05h-4.0zM1083.0 1419.80h4.0v16.05h-4.0zM1087.0 1419.80h4.0v16.05h-4.0zM1091.0 1415.80h4.0v16.05h-4.0zM1095.0 1415.80h4.0v12.05h-4.0zM1099.0 1415.80h4.0v12.05h-4.0zM1103.0 1415.80h4.0v12.05h-4.0zM1107.0 1415.80h4.0v12.05h-4.0zM1111.0 1415.80h4.0v12.05h-4.0zM1115.0 1415.80h4.0v12.05h-4.0zM1119.0 1415.80h4.0v12.05h-4.0zM1123.0 1411.80h4.0v16.05h-4.0zM1127.0 1407.80h4.0v16.05h-4.0zM1131.0 1407.80h4.0v12.05h-4.0zM1135.0 1407.80h4.0v12.05h-4.0zM1139.0 1403.80h4.0v12.05h-4.0zM1143.0 1403.80h4.0v12.05h-4.0zM1147.0 1403.80h4.0v16.05h-4.0zM1151.0 1407.80h4.0v12.05h-4.0zM1155.0 1407.80h4.0v12.05h-4.0zM1159.0 1403.80h4.0v12.05h-4.0zM1163.0 1403.80h4.0v12.05h-4.0zM1167.0 1399.80h4.0v12.05h-4.0zM1171.0 1399.80h4.0v12.05h-4.0zM1175.0 1399.80h4.0v12.05h-4.0zM1179.0 1399.80h4.0v12.05h-4.0zM1183.0 1403.80h4.0v12.05h-4.0zM1187.0 1403.80h4.0v16.05h-4.0zM1191.0 1399.80h4.0v20.05h-4.0zM1195.0 1399.80h4.0v16.05h-4.0zM1199.0 1399.80h4.0v12.05h-4.0zM1203.0 1399.80h4.0v12.05h-4.0zM1207.0 1399.80h4.0v12.05h-4.0zM1211.0 1399.80h4.0v12.05h-4.0zM1215.0 1399.80h4.0v12.05h-4.0zM1219.0 1399.80h4.0v12.05h-4.0zM1223.0 1399.80h4.0v12.05h-4.0zM1227.0 1399.80h4.0v12.05h-4.0zM1231.0 1399.80h4.0v12.05h-4.0zM1235.0 1399.80h4.0v12.05h-4.0zM1239.0 1399.80h4.0v12.05h-4.0zM1243.0 1399.80h4.0v12.05h-4.0zM1247.0 1399.80h4.0v12.05h-4.0zM1251.0 1399.80h4.0v12.05h-4.0zM1255.0 1399.80h4.0v12.05h-4.0zM1259.0 1399.80h4.0v12.05h-4.0zM1263.0 1395.80h4.0v12.05h-4.0zM1267.0 1395.80h4.0v12.05h-4.0zM1271.0 1391.80h4.0v12.05h-4.0zM1275.0 1391.80h4.0v12.05h-4.0zM1279.0 1391.80h4.0v12.05h-4.0zM1283.0 1391.80h4.0v12.05h-4.0zM1287.0 1391.80h4.0v12.05h-4.0zM1291.0 1387.80h4.0v16.05h-4.0zM1295.0 1383.80h4.0v16.05h-4.0zM1299.0 1383.80h4.0v12.05h-4.0zM1303.0 1383.80h4.0v12.05h-4.0zM1307.0 1379.80h4.0v28.05h-4.0zM1311.0 1383.80h4.0v32.05h-4.0zM1315.0 1395.80h4.0v28.05h-4.0zM1319.0 1407.80h4.0v16.05h-4.0zM1323.0 1403.80h4.0v16.05h-4.0zM1327.0 1399.80h4.0v16.05h-4.0zM1331.0 1395.80h4.0v16.05h-4.0zM1335.0 1391.80h4.0v16.05h-4.0zM1339.0 1391.80h4.0v12.05h-4.0zM1343.0 1391.80h4.0v12.05h-4.0zM1347.0 1391.80h4.0v12.05h-4.0zM1351.0 1391.80h4.0v12.05h-4.0zM1355.0 1391.80h4.0v12.05h-4.0zM1359.0 1391.80h4.0v12.05h-4.0zM1363.0 1387.80h4.0v16.05h-4.0zM1367.0 1387.80h4.0v12.05h-4.0zM1371.0 1387.80h4.0v12.05h-4.0zM1375.0 1383.80h4.0v12.05h-4.0zM1379.0 1387.80h4.0v12.05h-4.0zM1383.0 1387.80h4.0v12.05h-4.0zM1387.0 1387.80h4.0v12.05h-4.0zM1391.0 1387.80h4.0v12.05h-4.0zM1395.0 1387.80h4.0v12.05h-4.0zM1399.0 1387.80h4.0v12.05h-4.0zM1403.0 1383.80h4.0v12.05h-4.0zM1407.0 1383.80h4.0v12.05h-4.0zM1411.0 1383.80h4.0v12.05h-4.0zM1415.0 1379.80h4.0v16.05h-4.0zM1419.0 1379.80h4.0v12.05h-4.0zM1423.0 1379.80h4.0v12.05h-4.0zM1427.0 1379.80h4.0v12.05h-4.0zM1431.0 1379.80h4.0v12.05h-4.0zM1435.0 1379.80h4.0v12.05h-4.0zM1439.0 1379.80h4.0v12.05h-4.0zM1443.0 1379.80h4.0v12.05h-4.0zM1447.0 1379.80h4.0v12.05h-4.0zM1451.0 1379.80h4.0v12.05h-4.0zM1455.0 1379.80h4.0v12.05h-4.0zM1459.0 1379.80h4.0v12.05h-4.0zM1463.0 1379.80h4.0v12.05h-4.0zM1467.0 1375.80h4.0v16.05h-4.0zM1471.0 1375.80h4.0v12.05h-4.0zM1475.0 1375.80h4.0v12.05h-4.0zM1479.0 1375.80h4.0v12.05h-4.0zM1483.0 1375.80h4.0v12.05h-4.0zM1487.0 1375.80h4.0v12.05h-4.0zM1491.0 1375.80h4.0v12.05h-4.0zM1495.0 1375.80h4.0v16.05h-4.0zM1499.0 1371.80h4.0v16.05h-4.0zM1503.0 1367.80h4.0v16.05h-4.0zM1507.0 1363.80h4.0v16.05h-4.0zM1511.0 1359.80h4.0v16.05h-4.0zM1515.0 1359.80h4.0v12.05h-4.0zM1519.0 1359.80h4.0v12.05h-4.0zM1523.0 1359.80h4.0v12.05h-4.0zM1527.0 1359.80h4.0v12.05h-4.0zM1531.0 1359.80h4.0v12.05h-4.0zM1535.0 1359.80h4.0v12.05h-4.0zM1539.0 1359.80h4.0v12.05h-4.0zM1543.0 1359.80h4.0v12.05h-4.0zM1547.0 1359.80h4.0v12.05h-4.0zM1551.0 1355.80h4.0v16.05h-4.0zM1555.0 1351.80h4.0v16.05h-4.0zM1559.0 1347.80h4.0v16.05h-4.0zM1563.0 1347.80h4.0v12.05h-4.0zM1567.0 1343.80h4.0v16.05h-4.0zM1571.0 1343.80h4.0v16.05h-4.0zM1575.0 1347.80h4.0v12.05h-4.0zM1579.0 1351.80h4.0v12.05h-4.0zM1583.0 1351.80h4.0v12.05h-4.0zM1587.0 1351.80h4.0v12.05h-4.0zM1591.0 1351.80h4.0v12.05h-4.0zM1595.0 1347.80h4.0v16.05h-4.0zM1599.0 1343.80h4.0v16.05h-4.0zM1603.0 1339.80h4.0v16.05h-4.0zM1607.0 1339.80h4.0v12.05h-4.0zM1611.0 1339.80h4.0v12.05h-4.0zM1615.0 1335.80h4.0v12.05h-4.0zM1619.0 1335.80h4.0v12.05h-4.0zM1623.0 1335.80h4.0v12.05h-4.0zM1627.0 1335.80h4.0v12.05h-4.0zM1631.0 1335.80h4.0v12.05h-4.0zM1635.0 1331.80h4.0v16.05h-4.0zM1639.0 1327.80h4.0v20.05h-4.0zM1643.0 1323.80h4.0v16.05h-4.0zM1647.0 1319.80h4.0v16.05h-4.0zM1651.0 1315.80h4.0v16.05h-4.0zM1655.0 1315.80h4.0v12.05h-4.0zM1659.0 1311.80h4.0v12.05h-4.0zM1663.0 1311.80h4.0v12.05h-4.0zM1667.0 1307.80h4.0v12.05h-4.0zM1671.0 1307.80h4.0v12.05h-4.0zM1675.0 1307.80h4.0v12.05h-4.0zM1679.0 1307.80h4.0v12.05h-4.0zM1683.0 1307.80h4.0v12.05h-4.0zM1687.0 1307.80h4.0v12.05h-4.0zM1691.0 1299.80h4.0v20.05h-4.0zM1695.0 1291.80h4.0v24.05h-4.0zM1699.0 1283.80h4.0v24.05h-4.0zM1703.0 1279.80h4.0v20.05h-4.0zM1707.0 1279.80h4.0v12.05h-4.0zM1711.0 1279.80h4.0v12.05h-4.0zM1715.0 1279.80h4.0v12.05h-4.0zM1719.0 1279.80h4.0v12.05h-4.0zM1723.0 1279.80h4.0v12.05h-4.0zM1727.0 1271.80h4.0v20.05h-4.0zM1731.0 1267.80h4.0v20.05h-4.0zM1735.0 1259.80h4.0v24.05h-4.0zM1739.0 1259.80h4.0v16.05h-4.0zM1743.0 1255.80h4.0v16.05h-4.0zM1747.0 1255.80h4.0v12.05h-4.0zM1751.0 1247.80h4.0v20.05h-4.0zM1755.0 1239.80h4.0v28.05h-4.0zM1759.0 1231.80h4.0v28.05h-4.0zM1763.0 1231.80h4.0v16.05h-4.0zM1767.0 1235.80h4.0v12.05h-4.0zM1771.0 1235.80h4.0v12.05h-4.0zM1775.0 1231.80h4.0v16.05h-4.0zM1779.0 1227.80h4.0v16.05h-4.0zM1783.0 1227.80h4.0v12.05h-4.0zM1787.0 1223.80h4.0v12.05h-4.0zM1791.0 1223.80h4.0v12.05h-4.0zM1795.0 1223.80h4.0v12.05h-4.0zM1799.0 1219.80h4.0v12.05h-4.0zM1803.0 1215.80h4.0v16.05h-4.0zM1807.0 1215.80h4.0v12.05h-4.0zM1811.0 1215.80h4.0v32.05h-4.0zM1815.0 1215.80h4.0v40.05h-4.0zM1819.0 1227.80h4.0v28.05h-4.0zM1823.0 1227.80h4.0v24.05h-4.0zM1827.0 1223.80h4.0v20.05h-4.0zM1831.0 1203.80h4.0v32.05h-4.0zM1835.0 1191.80h4.0v40.05h-4.0zM1839.0 1187.80h4.0v32.05h-4.0zM1843.0 1187.80h4.0v16.05h-4.0zM1847.0 1187.80h4.0v16.05h-4.0zM1851.0 1191.80h4.0v12.05h-4.0zM1855.0 1191.80h4.0v12.05h-4.0zM1859.0 1191.80h4.0v12.05h-4.0zM1863.0 1179.80h4.0v24.05h-4.0zM1867.0 1171.80h4.0v28.05h-4.0zM1871.0 1167.80h4.0v24.05h-4.0zM1875.0 1163.80h4.0v16.05h-4.0zM1879.0 1151.80h4.0v24.05h-4.0zM1883.0 1143.80h4.0v28.05h-4.0zM1887.0 1135.80h4.0v28.05h-4.0zM1891.0 1131.80h4.0v20.05h-4.0zM1895.0 1123.80h4.0v24.05h-4.0zM1899.0 1107.80h4.0v32.05h-4.0zM1903.0 1091.80h4.0v40.05h-4.0zM1907.0 1079.80h4.0v48.05h-4.0zM1911.0 1071.80h4.0v32.05h-4.0zM1915.0 1067.80h4.0v24.05h-4.0zM1919.0 1055.80h4.0v24.05h-4.0zM1923.0 1047.80h4.0v28.05h-4.0zM1927.0 1039.80h4.0v28.05h-4.0zM1931.0 1031.80h4.0v28.05h-4.0zM1935.0 1023.80h4.0v28.05h-4.0zM1939.0 1011.80h4.0v32.05h-4.0zM1943.0 995.80h4.0v36.05h-4.0zM1947.0 991.80h4.0v32.05h-4.0zM1951.0 983.80h4.0v24.05h-4.0zM1955.0 979.80h4.0v20.05h-4.0zM1959.0 971.80h4.0v24.05h-4.0zM1963.0 955.80h4.0v32.05h-4.0zM1967.0 939.80h4.0v40.05h-4.0zM1971.0 923.80h4.0v44.05h-4.0zM1975.0 899.80h4.0v56.05h-4.0zM1979.0 883.80h4.0v56.05h-4.0zM1983.0 883.80h4.0v36.05h-4.0zM1987.0 883.80h4.0v32.05h-4.0zM1991.0 883.80h4.0v40.05h-4.0zM1995.0 843.80h4.0v80.05h-4.0zM1999.0 807.80h4.0v104.05h-4.0zM2003.0 639.80h4.0v236.05h-4.0zM2007.0 299.80h4.0v536.05h-4.0zM2011.0 243.80h4.0v552.05h-4.0zM2015.0 243.80h4.0v284.05h-4.0z"/>
<filter id="px2" filterUnits="userSpaceOnUse" x="558" y="5" width="1140" height="104" color-interpolation-filters="sRGB"><feConvolveMatrix in="SourceGraphic" order="4" kernelMatrix="1 1 1 1 1 1 1 1 1 1 1 1 1 1 1 1" divisor="16" targetX="1" targetY="1" edgeMode="none" preserveAlpha="false" result="b"/><feFlood x="559" y="6" width="1" height="1" flood-color="#000" result="f"/><feComposite in="f" in2="f" operator="over" x="558" y="5" width="4" height="4" result="c"/><feTile in="c" result="t"/><feComposite in="b" in2="t" operator="in" result="s"/><feConvolveMatrix in="s" order="4" kernelMatrix="1 1 1 1 1 1 1 1 1 1 1 1 1 1 1 1" divisor="1" targetX="2" targetY="2" edgeMode="none" preserveAlpha="false"/></filter>
<g filter="url(#px2)" stroke="#fff" stroke-width="0.3">
<text x="1127" y="80.4" font-size="71.1" font-weight="bold" text-anchor="middle" style="fill:#000">~60 km South of Las Vegas Strip</text>
</g>
<filter id="px3" filterUnits="userSpaceOnUse" x="838" y="1613" width="576" height="104" color-interpolation-filters="sRGB"><feConvolveMatrix in="SourceGraphic" order="4" kernelMatrix="1 1 1 1 1 1 1 1 1 1 1 1 1 1 1 1" divisor="16" targetX="1" targetY="1" edgeMode="none" preserveAlpha="false" result="b"/><feFlood x="839" y="1614" width="1" height="1" flood-color="#000" result="f"/><feComposite in="f" in2="f" operator="over" x="838" y="1613" width="4" height="4" result="c"/><feTile in="c" result="t"/><feComposite in="b" in2="t" operator="in" result="s"/><feConvolveMatrix in="s" order="4" kernelMatrix="1 1 1 1 1 1 1 1 1 1 1 1 1 1 1 1" divisor="1" targetX="2" targetY="2" edgeMode="none" preserveAlpha="false"/></filter>
<g filter="url(#px3)" stroke="#fff" stroke-width="0.3">
<text x="1127.0" y="1684.6" font-size="71.3" text-anchor="middle">Wavelength (nm)</text>
</g>
<filter id="px4" filterUnits="userSpaceOnUse" x="174" y="1537" width="1916" height="68" color-interpolation-filters="sRGB"><feConvolveMatrix in="SourceGraphic" order="4" kernelMatrix="1 1 1 1 1 1 1 1 1 1 1 1 1 1 1 1" divisor="16" targetX="1" targetY="1" edgeMode="none" preserveAlpha="false" result="b"/><feFlood x="175" y="1538" width="1" height="1" flood-color="#000" result="f"/><feComposite in="f" in2="f" operator="over" x="174" y="1537" width="4" height="4" result="c"/><feTile in="c" result="t"/><feComposite in="b" in2="t" operator="in" result="s"/><feConvolveMatrix in="s" order="4" kernelMatrix="1 1 1 1 1 1 1 1 1 1 1 1 1 1 1 1" divisor="1" targetX="2" targetY="2" edgeMode="none" preserveAlpha="false"/></filter>
<g filter="url(#px4)" stroke="#fff" stroke-width="0.3">
<text x="236.9" y="1590.2" font-size="55.5" letter-spacing="-1.20" text-anchor="middle">400</text>
<text x="531.9" y="1590.2" font-size="55.5" letter-spacing="-1.20" text-anchor="middle">500</text>
<text x="830.6" y="1590.2" font-size="55.5" letter-spacing="-1.20" text-anchor="middle">600</text>
<text x="1125.3" y="1590.2" font-size="55.5" letter-spacing="-1.20" text-anchor="middle">700</text>
<text x="1420.6" y="1590.2" font-size="55.5" letter-spacing="-1.20" text-anchor="middle">800</text>
<text x="1718.8" y="1590.2" font-size="55.5" letter-spacing="-1.20" text-anchor="middle">900</text>
<text x="2015.0" y="1590.2" font-size="55.5" letter-spacing="-1.20" text-anchor="middle">1000</text>
<rect x="1958.44" y="1585.65" width="11.27" height="6.05" fill="#fff" stroke="none"/><rect x="1974.53" y="1585.65" width="10.54" height="6.05" fill="#fff" stroke="none"/>
</g>
<filter id="px5" filterUnits="userSpaceOnUse" x="126" y="81" width="104" height="1468" color-interpolation-filters="sRGB"><feConvolveMatrix in="SourceGraphic" order="4" kernelMatrix="1 1 1 1 1 1 1 1 1 1 1 1 1 1 1 1" divisor="16" targetX="1" targetY="1" edgeMode="none" preserveAlpha="false" result="b"/><feFlood x="127" y="82" width="1" height="1" flood-color="#000" result="f"/><feComposite in="f" in2="f" operator="over" x="126" y="81" width="4" height="4" result="c"/><feTile in="c" result="t"/><feComposite in="b" in2="t" operator="in" result="s"/><feConvolveMatrix in="s" order="4" kernelMatrix="1 1 1 1 1 1 1 1 1 1 1 1 1 1 1 1" divisor="1" targetX="2" targetY="2" edgeMode="none" preserveAlpha="false"/></filter>
<g filter="url(#px5)" stroke="#fff" stroke-width="0.3">
<text x="216.0" y="133.1" font-size="55.5" text-anchor="end">0.8</text>
<text x="216.0" y="308.8" font-size="55.5" text-anchor="end">0.7</text>
<text x="216.0" y="485.0" font-size="55.5" text-anchor="end">0.6</text>
<text x="216.0" y="660.8" font-size="55.5" text-anchor="end">0.5</text>
<text x="216.0" y="833.1" font-size="55.5" text-anchor="end">0.4</text>
<text x="216.0" y="1008.9" font-size="55.5" text-anchor="end">0.3</text>
<text x="216.0" y="1185.1" font-size="55.5" text-anchor="end">0.2</text>
<text x="216.0" y="1361.5" font-size="55.5" text-anchor="end">0.1</text>
<rect x="187.91" y="1356.95" width="11.27" height="6.05" fill="#fff" stroke="none"/><rect x="204.00" y="1356.95" width="10.54" height="6.05" fill="#fff" stroke="none"/>
<text x="216.0" y="1536.7" font-size="55.5" text-anchor="end">0</text>
</g>
<filter id="px6" filterUnits="userSpaceOnUse" x="18" y="361" width="120" height="896" color-interpolation-filters="sRGB"><feConvolveMatrix in="SourceGraphic" order="4" kernelMatrix="1 1 1 1 1 1 1 1 1 1 1 1 1 1 1 1" divisor="16" targetX="1" targetY="1" edgeMode="none" preserveAlpha="false" result="b"/><feFlood x="19" y="362" width="1" height="1" flood-color="#000" result="f"/><feComposite in="f" in2="f" operator="over" x="18" y="361" width="4" height="4" result="c"/><feTile in="c" result="t"/><feComposite in="b" in2="t" operator="in" result="s"/><feConvolveMatrix in="s" order="4" kernelMatrix="1 1 1 1 1 1 1 1 1 1 1 1 1 1 1 1" divisor="1" targetX="2" targetY="2" edgeMode="none" preserveAlpha="false"/></filter>
<g filter="url(#px6)" stroke="#fff" stroke-width="0.3">
<g transform="translate(107.7 0) rotate(-90)">
<text font-size="71"><tspan x="-1244.7" y="0.0" font-size="71">NESR (W m</tspan><tspan x="-852.5" y="-26.3" font-size="71">−</tspan><tspan x="-807.2" y="-32.8" font-size="57.5">2</tspan><tspan x="-770.1" y="0.0" font-size="71"> sr</tspan><tspan x="-689.4" y="-26.3" font-size="71">−</tspan><tspan x="-639.4" y="-32.8" font-size="57.5">1</tspan><tspan x="-607.6" y="0.0" font-size="71"> </tspan><tspan x="-587.9" y="0.0" font-size="74" font-style="italic" font-family="'Liberation Serif',serif">μ</tspan><tspan x="-543.7" y="0.0" font-size="71">m</tspan><tspan x="-480.7" y="-26.3" font-size="71">−</tspan><tspan x="-430.8" y="-32.8" font-size="57.5">1</tspan><tspan x="-397.7" y="0.0" font-size="71">)</tspan></text>
<rect x="-636.52" y="-37.52" width="11.67" height="6.21" fill="#fff" stroke="none"/><rect x="-619.85" y="-37.52" width="10.93" height="6.21" fill="#fff" stroke="none"/>
<rect x="-427.93" y="-37.52" width="11.67" height="6.21" fill="#fff" stroke="none"/><rect x="-411.25" y="-37.52" width="10.93" height="6.21" fill="#fff" stroke="none"/>
</g>
</g>
</svg></body></html>
